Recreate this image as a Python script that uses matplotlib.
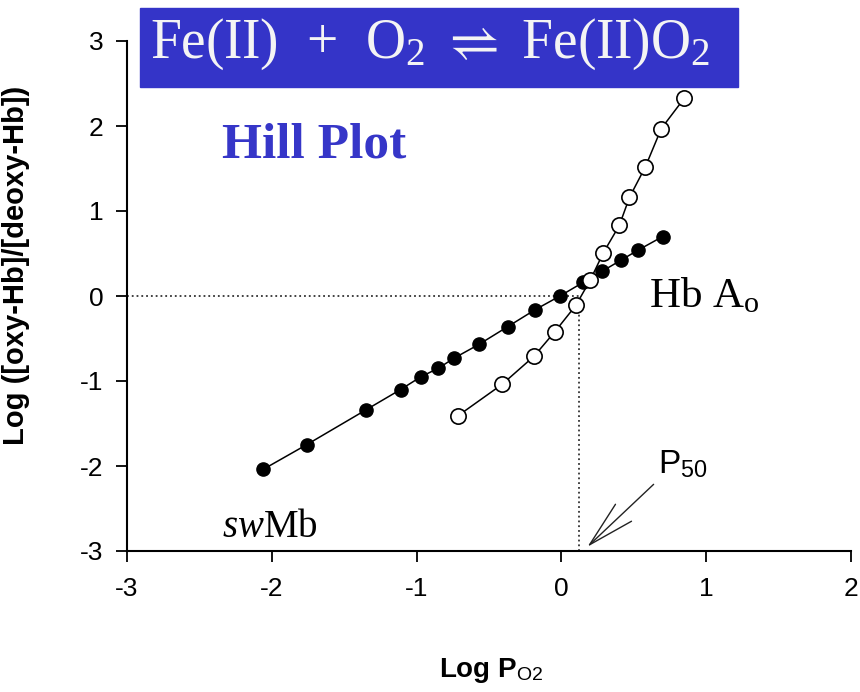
import matplotlib
matplotlib.use("Agg")
import matplotlib.pyplot as plt
from matplotlib.patches import Rectangle

plt.rcParams['font.family'] = ['Liberation Sans', 'DejaVu Sans']
plt.rcParams['axes.unicode_minus'] = False
plt.rcParams['mathtext.fontset'] = 'custom'
plt.rcParams['mathtext.rm'] = 'Liberation Serif'
plt.rcParams['mathtext.it'] = 'Liberation Serif:italic'
plt.rcParams['mathtext.bf'] = 'Liberation Serif:bold'
plt.rcParams['mathtext.sf'] = 'Liberation Sans'

# swMb (filled circles)
mb_x = [-2.06, -1.76, -1.35, -1.11, -0.97, -0.85, -0.74, -0.57, -0.37, -0.18,
        -0.01, 0.15, 0.28, 0.41, 0.53, 0.70]
mb_y = [-2.04, -1.75, -1.34, -1.10, -0.95, -0.85, -0.73, -0.57, -0.36, -0.16,
        0.00, 0.16, 0.29, 0.42, 0.54, 0.70]

# Hb A0 (open circles)
hb_x = [-0.715, -0.41, -0.19, -0.045, 0.10, 0.20, 0.29, 0.40, 0.47, 0.58, 0.69, 0.85]
hb_y = [-1.41, -1.04, -0.71, -0.42, -0.11, 0.19, 0.51, 0.83, 1.16, 1.52, 1.97, 2.33]

p50 = 0.124
ticks_x = [-3, -2, -1, 0, 1, 2]
ticks_y = [-3, -2, -1, 0, 1, 2, 3]

fig = plt.figure(figsize=(8.6, 6.92), dpi=100)
ax = fig.add_axes([127/860, 1 - 551/692, 724/860, 510/692])

# dotted guide lines for P50
ax.plot([-3, p50], [0, 0], ls=':', color='#333333', lw=1.3)
ax.plot([p50, p50], [-3, -0.1], ls=':', color='#333333', lw=1.3)

ax.plot(mb_x, mb_y, '-o', color='black', lw=1.1, ms=9.5, mfc='black', mec='black', zorder=3)
ax.plot(hb_x, hb_y, '-o', color='black', lw=1.1, ms=11, mfc='white', mec='black', mew=1.2, zorder=4)

ax.set_xlim(-3, 2)
ax.set_ylim(-3, 3)
ax.set_xticks(ticks_x)
ax.set_yticks(ticks_y)
ax.spines['top'].set_visible(False)
ax.spines['right'].set_visible(False)
for s in ['left', 'bottom']:
    ax.spines[s].set_linewidth(1.5)
ax.tick_params(axis='both', direction='out', length=8, width=1.3, labelsize=19, color='black')
ax.tick_params(axis='x', pad=11)
ax.tick_params(axis='y', pad=9)

ax.set_ylabel("Log ([oxy-Hb]/[deoxy-Hb])", fontsize=21, fontweight='bold')
ax.yaxis.set_label_coords(-0.134, 0.56)
ax.set_xlabel("Log P$_{\\mathsf{O2}}$", fontsize=20, fontweight='bold')
ax.xaxis.set_label_coords(0.503, -0.205)

# labels inside the plot
ax.text(0.607, -0.135, "Hb A$_{\\mathrm{o}}$", fontsize=31, family='Liberation Serif', va='baseline')
ax.text(-2.345, -2.84, "$\\mathit{sw}$Mb", fontsize=28, family='Liberation Serif', va='baseline')
ax.annotate("P$_{\\mathsf{50}}$", xy=(0.18, -2.95), xytext=(0.67, -2.08),
            fontsize=24, va='baseline', ha='left',
            arrowprops=dict(arrowstyle='->,head_length=1.4,head_width=0.35', lw=1,
                            color='#222222', relpos=(0, 0), shrinkA=2, shrinkB=0))

# title box
fig.patches.append(Rectangle((140/860, 1 - 87/692), 598/860, 79/692,
                             transform=fig.transFigure, color='#3434C8', zorder=0))
fig.text(0.50, 1 - 58/692, "Fe(II)  +  O$_{\\mathrm{2}}$ $\\rightleftharpoons$ Fe(II)O$_{\\mathrm{2}}$",
         fontsize=40, color='#f4f4f4', family='Liberation Serif', ha='center', va='baseline')
fig.text(222/860, 1 - 157/692, "Hill Plot", fontsize=37, fontweight='bold',
         color='#3636C8', family='Liberation Serif', va='baseline')

fig.savefig("out.png", dpi=100)
